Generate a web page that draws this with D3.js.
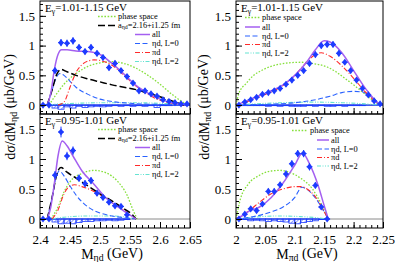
<!DOCTYPE html>
<html>
<head>
<meta charset="utf-8">
<script src="https://cdn.jsdelivr.net/npm/d3@7"></script>
<style>
body { margin: 0; background: #fff; }
svg { display: block; }
</style>
</head>
<body>
<svg id="fig" width="395" height="262" font-family="Liberation Serif, Times New Roman, serif"></svg>
<script>
// ---- data ----
// top left : eta d, E = 1.01-1.15 GeV
const tlX = [2.405,2.415,2.425,2.435,2.445,2.455,2.465,2.475,2.485,2.495,2.505,2.515,2.525,2.535,2.545,2.555,2.565,2.575,2.585,2.595,2.605,2.615,2.625,2.635,2.645];
const tlY = [0,0,0.58,1.05,1.04,1.08,0.97,0.90,0.97,0.87,0.80,0.63,0.70,0.58,0.48,0.37,0.24,0.24,0.19,0.15,0.09,0.06,0.04,0.02,0.02];
const tlErr = [0.03,0.03,0.05,0.06,0.06,0.06,0.05,0.05,0.05,0.05,0.05,0.05,0.05,0.04,0.04,0.04,0.04,0.04,0.03,0.03,0.03,0.03,0.03,0.02,0.02];
const tlSys = [0,0,0.05,0.07,0.03,0.05,0.02,0.04,0.03,0.02,0.03,0.02,0.01,0.02,0.01,0.02,0.01,0.02,0.01,0.04,0.01,0.01,0,0,0];
const tlAll = [[2.412,0],[2.418,0.2],[2.424,0.6],[2.43,0.85],[2.436,0.93],[2.445,0.93],[2.46,0.91],[2.48,0.9],[2.5,0.85],[2.52,0.7],[2.54,0.52],[2.56,0.33],[2.58,0.2],[2.6,0.1],[2.62,0.04],[2.645,0.01]];
const tlA = [[2.412,0],[2.42,0.25],[2.428,0.52],[2.435,0.6],[2.445,0.56],[2.46,0.5],[2.48,0.44],[2.5,0.39],[2.52,0.34],[2.54,0.3],[2.56,0.26],[2.58,0.2],[2.6,0.14],[2.62,0.07],[2.64,0]];
const tlL0 = [[2.412,0],[2.42,0.25],[2.428,0.48],[2.433,0.53],[2.44,0.5],[2.45,0.4],[2.46,0.3],[2.48,0.18],[2.5,0.1],[2.52,0.06],[2.55,0.03],[2.6,0.01],[2.64,0]];
const tlPi = [[2.43,0],[2.44,0.05],[2.45,0.3],[2.46,0.55],[2.47,0.68],[2.48,0.74],[2.49,0.76],[2.5,0.75],[2.52,0.67],[2.54,0.5],[2.56,0.32],[2.58,0.18],[2.6,0.08],[2.62,0.03],[2.64,0]];
const tlPS = [[2.415,0],[2.425,0.15],[2.44,0.35],[2.46,0.53],[2.48,0.65],[2.5,0.71],[2.52,0.73],[2.54,0.7],[2.56,0.62],[2.58,0.5],[2.6,0.35],[2.62,0.18],[2.635,0.07],[2.645,0.01]];
const tlL2 = [[2.415,0],[2.43,0.02],[2.46,0.03],[2.5,0.04],[2.55,0.04],[2.6,0.03],[2.64,0.01]];

// top right : pi d, E = 1.01-1.15 GeV
const trX = [2.005,2.015,2.025,2.035,2.045,2.055,2.065,2.075,2.085,2.095,2.105,2.115,2.125,2.135,2.145,2.155,2.165,2.175,2.185,2.195,2.205,2.215,2.225,2.235,2.245];
const trY = [0,0.05,0.09,0.13,0.18,0.21,0.24,0.28,0.35,0.42,0.5,0.58,0.7,0.85,1.0,1.02,1.02,0.87,0.72,0.58,0.42,0.28,0.17,0.07,0.02];
const trErr = [0.02,0.03,0.03,0.03,0.03,0.03,0.03,0.03,0.04,0.04,0.04,0.04,0.05,0.05,0.05,0.05,0.05,0.05,0.04,0.04,0.04,0.03,0.03,0.03,0.02];
const trSys = [0,0.01,0.01,0.01,0.01,0.02,0.01,0.02,0.01,0.02,0.02,0.02,0.01,0.02,0.01,0.02,0.02,0.01,0.02,0.01,0.01,0.01,0,0,0];
const trAll = [[2,0],[2.02,0.08],[2.04,0.16],[2.06,0.24],[2.08,0.34],[2.1,0.5],[2.12,0.72],[2.135,0.93],[2.15,1.08],[2.16,1.06],[2.18,0.88],[2.2,0.58],[2.22,0.28],[2.235,0.1],[2.245,0]];
const trL0 = [[2,0],[2.05,0.01],[2.1,0.04],[2.13,0.08],[2.16,0.15],[2.18,0.21],[2.2,0.23],[2.215,0.22],[2.23,0.14],[2.245,0]];
const trPi = [[2,0],[2.02,0.06],[2.04,0.14],[2.06,0.22],[2.08,0.33],[2.1,0.5],[2.12,0.72],[2.135,0.85],[2.145,0.88],[2.16,0.82],[2.18,0.66],[2.2,0.45],[2.22,0.22],[2.235,0.08],[2.245,0]];
const trPS = [[2,0],[2.005,0.2],[2.017,0.36],[2.03,0.5],[2.045,0.59],[2.07,0.68],[2.09,0.71],[2.11,0.72],[2.13,0.7],[2.155,0.64],[2.17,0.56],[2.185,0.45],[2.2,0.34],[2.215,0.22],[2.23,0.1],[2.245,0]];
const trL2 = [[2,0],[2.03,0.02],[2.08,0.04],[2.13,0.05],[2.18,0.04],[2.22,0.02],[2.245,0]];

// bottom left : eta d, E = 0.95-1.01 GeV
const blX = [2.405,2.415,2.425,2.435,2.445,2.455,2.465,2.475,2.485,2.495,2.505,2.515,2.525,2.535,2.545];
const blY = [0,0,0.73,1.45,1.05,1.14,0.68,0.59,0.64,0.43,0.36,0.28,0.22,0.21,0.07];
const blErr = [0.03,0.03,0.07,0.09,0.07,0.07,0.06,0.06,0.06,0.05,0.05,0.04,0.04,0.04,0.03];
const blSys = [0,0,0.05,0.08,0.07,0.08,0.06,0.04,0.04,0.03,0.03,0.02,0.03,0.02,0.01];
const blAll = [[2.412,0],[2.418,0.2],[2.424,0.6],[2.43,1.05],[2.437,1.3],[2.445,1.22],[2.455,1.05],[2.47,0.8],[2.49,0.58],[2.51,0.35],[2.53,0.2],[2.545,0.1],[2.56,0]];
const blA = [[2.412,0],[2.42,0.35],[2.428,0.75],[2.435,0.86],[2.445,0.78],[2.46,0.68],[2.48,0.55],[2.5,0.42],[2.52,0.3],[2.54,0.17],[2.555,0.06],[2.56,0]];
const blL0 = [[2.412,0],[2.42,0.35],[2.427,0.7],[2.432,0.8],[2.44,0.72],[2.45,0.55],[2.46,0.4],[2.48,0.2],[2.5,0.1],[2.52,0.05],[2.55,0.01],[2.56,0]];
const blPi = [[2.42,0],[2.43,0.15],[2.44,0.42],[2.45,0.55],[2.457,0.57],[2.47,0.54],[2.49,0.46],[2.51,0.35],[2.53,0.22],[2.55,0.07],[2.56,0]];
const blPS = [[2.418,0],[2.43,0.2],[2.44,0.45],[2.45,0.62],[2.47,0.76],[2.49,0.81],[2.51,0.77],[2.53,0.62],[2.545,0.4],[2.555,0.15],[2.562,0]];
const blL2 = [[2.42,0],[2.44,0.03],[2.48,0.05],[2.52,0.05],[2.55,0.02],[2.56,0]];

// bottom right : pi d, E = 0.95-1.01 GeV
const brX = [2.005,2.015,2.025,2.035,2.045,2.055,2.065,2.075,2.085,2.095,2.105,2.115,2.125,2.135,2.145,2.155];
const brY = [0,0.08,0.17,0.14,0.25,0.46,0.46,0.57,0.75,0.92,1.09,1.09,0.87,0.56,0.2,0];
const brErr = [0.02,0.04,0.04,0.04,0.05,0.05,0.05,0.05,0.06,0.06,0.06,0.06,0.06,0.05,0.04,0.02];
const brSys = [0,0.01,0.03,0.02,0.03,0.04,0.03,0.04,0.05,0.07,0.08,0.06,0.04,0.03,0.01,0];
const brAll = [[2,0],[2.01,0.05],[2.02,0.12],[2.04,0.2],[2.06,0.36],[2.08,0.6],[2.1,0.9],[2.113,1.1],[2.125,0.92],[2.14,0.55],[2.15,0.22],[2.157,0]];
const brL0 = [[2,0],[2.03,0.04],[2.06,0.12],[2.08,0.2],[2.1,0.36],[2.112,0.53],[2.12,0.5],[2.135,0.35],[2.15,0.12],[2.157,0]];
const brPi = [[2,0],[2.02,0.12],[2.04,0.28],[2.06,0.42],[2.08,0.5],[2.1,0.54],[2.11,0.54],[2.125,0.47],[2.14,0.3],[2.15,0.12],[2.157,0]];
const brPS = [[2,0],[2.008,0.35],[2.02,0.57],[2.04,0.73],[2.06,0.8],[2.075,0.81],[2.09,0.78],[2.11,0.68],[2.13,0.5],[2.145,0.25],[2.157,0]];
const brL2 = [[2,0],[2.03,0.03],[2.07,0.05],[2.11,0.04],[2.14,0.02],[2.157,0]];

const etaTicks = [2.4,2.45,2.5,2.55,2.6,2.65];
const piTicks = [2,2.05,2.1,2.15,2.2,2.25];
const yTicks = [0,0.5,1,1.5];

// ---- styles ----
const FONT = 'Liberation Serif, Times New Roman, serif';
const sty = {
  ps:  {color:'#86e03c', dash:'1.6,1.6', w:1.3},
  a:   {color:'#000',    dash:'7,3',     w:1.5},
  all: {color:'#a45ff0', dash:null,      w:1.5},
  l0:  {color:'#2a62ff', dash:'5,2.5',   w:1.1},
  pi:  {color:'#ff2b2b', dash:'5,2,1,2', w:1.1},
  l2:  {color:'#66e3d2', dash:'4,1.5,1,1.5,1,1.5', w:1.1}
};
const ptColor = '#1d3bff';

const svg = d3.select('#fig');
const defs = svg.append('defs');
const pat = defs.append('pattern').attr('id','hatch').attr('patternUnits','userSpaceOnUse')
  .attr('width',3).attr('height',3).attr('patternTransform','rotate(45)');
pat.append('line').attr('x1',0).attr('y1',0).attr('x2',0).attr('y2',3).attr('stroke',ptColor).attr('stroke-width',1);

function rich(sel, parts) {
  parts.forEach(p => {
    const t = sel.append('tspan').text(p[0]);
    if (p[1] === 'sub') t.attr('font-size','0.7em').attr('dy','0.2em');
    if (p[1] === 'back') t.attr('dy','-0.2em');
  });
}

function panel(p) {
  const x = d3.scaleLinear().domain(p.xDom).range([p.left, p.right]);
  const y = d3.scaleLinear().domain([-0.15, 1.75]).range([p.bottom, p.top]);
  const g = svg.append('g');

  // zero line
  g.append('line').attr('x1',p.left).attr('x2',p.right).attr('y1',y(0)).attr('y2',y(0))
    .attr('stroke','#8a8a8a').attr('stroke-width',1);

  // systematic band
  const hb = 0.005;
  g.selectAll('rect.sys').data(p.sys.map((s,i)=>({c:p.px[i], s}))).join('rect')
    .attr('x', d => x(d.c-hb)).attr('width', d => x(d.c+hb)-x(d.c-hb))
    .attr('y', y(0)).attr('height', d => y(-d.s)-y(0))
    .attr('fill','url(#hatch)').attr('stroke',ptColor).attr('stroke-width',0.8);
  g.append('line').attr('x1',x(p.px[0]-hb)).attr('x2',x(p.px[p.px.length-1]+hb))
    .attr('y1',y(0)).attr('y2',y(0)).attr('stroke',ptColor).attr('stroke-width',1.2);

  // curves
  const line = d3.line().x(d=>x(d[0])).y(d=>y(d[1])).curve(d3.curveMonotoneX);
  p.curves.forEach(c => {
    const s = sty[c.k];
    g.append('path').attr('d', line(c.d)).attr('fill','none')
      .attr('stroke', s.color).attr('stroke-width', s.w)
      .attr('stroke-dasharray', s.dash);
  });

  // data points
  const pts = p.px.map((v,i)=>({x:v, y:p.py[i], e:p.pe[i]}));
  const pg = g.append('g');
  pg.selectAll('line.ev').data(pts).join('line')
    .attr('x1',d=>x(d.x)).attr('x2',d=>x(d.x)).attr('y1',d=>y(d.y+d.e)).attr('y2',d=>y(d.y-d.e))
    .attr('stroke',ptColor).attr('stroke-width',1);
  pg.selectAll('line.eh').data(pts).join('line')
    .attr('x1',d=>x(d.x-hb)).attr('x2',d=>x(d.x+hb)).attr('y1',d=>y(d.y)).attr('y2',d=>y(d.y))
    .attr('stroke',ptColor).attr('stroke-width',1);
  pg.selectAll('path.pt').data(pts).join('path')
    .attr('d', 'M0,-3.6L2.8,0L0,3.6L-2.8,0Z')
    .attr('transform', d => `translate(${x(d.x)},${y(d.y)})`)
    .attr('fill', ptColor);

  // axes
  const minorX = d3.range(p.xDom[0], p.xDom[1]+1e-9, 0.01);
  const ax = g.append('g').attr('transform',`translate(0,${p.bottom})`)
    .call(d3.axisBottom(x).tickValues(p.xTicks).tickSize(-6).tickPadding(7)
      .tickFormat(p.labels ? (d => String(+d.toFixed(2))) : ''));
  ax.select('.domain').remove();
  ax.attr('font-family', FONT);
  ax.selectAll('text').attr('font-size',13).attr('fill','#000');
  const axm = g.append('g').attr('transform',`translate(0,${p.bottom})`)
    .call(d3.axisBottom(x).tickValues(minorX).tickSize(-3).tickFormat(''));
  axm.select('.domain').remove();

  const ay = g.append('g').attr('transform',`translate(${p.left},0)`)
    .call(d3.axisLeft(y).tickValues(yTicks).tickSize(-6).tickPadding(5).tickFormat(d => String(d)));
  ay.select('.domain').remove();
  ay.attr('font-family', FONT);
  ay.selectAll('text').attr('font-size',13).attr('fill','#000');
  const aym = g.append('g').attr('transform',`translate(${p.left},0)`)
    .call(d3.axisLeft(y).tickValues(d3.range(-0.1, 1.75, 0.1)).tickSize(-3).tickFormat(''));
  aym.select('.domain').remove();

  // frame
  g.append('rect').attr('x',p.left).attr('y',p.top).attr('width',p.right-p.left).attr('height',p.bottom-p.top)
    .attr('fill','none').attr('stroke','#000').attr('stroke-width',1);

  // header
  const h = g.append('text').attr('x', p.left+5).attr('y', p.top+11).attr('font-size',11);
  rich(h, [['E',''],['γ','sub'],['='+p.energy+' GeV','back']]);

  // legend
  p.legend.forEach(r => {
    const s = sty[r.k];
    const cy = p.top + r.dy;
    g.append('line').attr('x1',r.x0).attr('x2',r.x1).attr('y1',cy).attr('y2',cy)
      .attr('stroke',s.color).attr('stroke-width',s.w).attr('stroke-dasharray',s.dash);
    const t = g.append('text').attr('x',r.x1+2).attr('y',cy+2.8).attr('font-size',8.4);
    rich(t, r.label);
  });
}

const lblPS = [['phase space','']];
const lblA = [['a',''],['ηd','sub'],['=2.16+i1.25 fm','back']];
const lblAll = [['all','']];
const lblL0 = [['ηd, L=0','']];
const lblPi = [['πd','']];
const lblL2 = [['ηd, L=2','']];

const etaLegend = [
  {k:'ps', label:lblPS, x0:98, x1:116, dy:15.5},
  {k:'a', label:lblA, x0:98, x1:116, dy:24.5},
  {k:'all', label:lblAll, x0:135, x1:150, dy:33.5},
  {k:'l0', label:lblL0, x0:135, x1:150, dy:42.5},
  {k:'pi', label:lblPi, x0:135, x1:150, dy:51.5},
  {k:'l2', label:lblL2, x0:135, x1:150, dy:60.5}
];
const piLegendTop = [
  {k:'ps', label:lblPS, x0:245, x1:260, dy:16.5},
  {k:'all', label:lblAll, x0:245, x1:260, dy:26},
  {k:'l0', label:lblL0, x0:245, x1:260, dy:35},
  {k:'pi', label:lblPi, x0:245, x1:260, dy:43.5},
  {k:'l2', label:lblL2, x0:245, x1:260, dy:52}
];
const piLegendBot = [
  {k:'ps', label:lblPS, x0:292, x1:308, dy:16.5},
  {k:'all', label:lblAll, x0:317, x1:329, dy:26},
  {k:'l0', label:lblL0, x0:317, x1:329, dy:35},
  {k:'pi', label:lblPi, x0:317, x1:329, dy:43.5},
  {k:'l2', label:lblL2, x0:317, x1:329, dy:52}
];

const L = {left:40, right:190}, R = {left:236, right:383};
const T = {top:1, bottom:114}, B = {top:114, bottom:228};

panel({...L, ...T, xDom:[2.4,2.65], xTicks:etaTicks, labels:false, energy:'1.01-1.15',
  px:tlX, py:tlY, pe:tlErr, sys:tlSys, legend:etaLegend,
  curves:[{k:'ps',d:tlPS},{k:'l2',d:tlL2},{k:'l0',d:tlL0},{k:'pi',d:tlPi},{k:'a',d:tlA},{k:'all',d:tlAll}]});
panel({...R, ...T, xDom:[2,2.25], xTicks:piTicks, labels:false, energy:'1.01-1.15',
  px:trX, py:trY, pe:trErr, sys:trSys, legend:piLegendTop,
  curves:[{k:'ps',d:trPS},{k:'l2',d:trL2},{k:'l0',d:trL0},{k:'pi',d:trPi},{k:'all',d:trAll}]});
panel({...L, ...B, xDom:[2.4,2.65], xTicks:etaTicks, labels:true, energy:'0.95-1.01',
  px:blX, py:blY, pe:blErr, sys:blSys, legend:etaLegend,
  curves:[{k:'ps',d:blPS},{k:'l2',d:blL2},{k:'l0',d:blL0},{k:'pi',d:blPi},{k:'a',d:blA},{k:'all',d:blAll}]});
panel({...R, ...B, xDom:[2,2.25], xTicks:piTicks, labels:true, energy:'0.95-1.01',
  px:brX, py:brY, pe:brErr, sys:brSys, legend:piLegendBot,
  curves:[{k:'ps',d:brPS},{k:'l2',d:brL2},{k:'l0',d:brL0},{k:'pi',d:brPi},{k:'all',d:brAll}]});

// axis titles
const yt1 = svg.append('text').attr('transform','translate(15,107) rotate(-90)')
  .attr('text-anchor','middle').attr('font-size',14);
rich(yt1, [['dσ/dM',''],['ηd','sub'],[' (μb/GeV)','back']]);
const yt2 = svg.append('text').attr('transform','translate(209,107) rotate(-90)')
  .attr('text-anchor','middle').attr('font-size',14);
rich(yt2, [['dσ/dM',''],['πd','sub'],[' (μb/GeV)','back']]);
const xt1 = svg.append('text').attr('x',112).attr('y',259).attr('text-anchor','middle').attr('font-size',14);
rich(xt1, [['M',''],['ηd','sub'],[' (GeV)','back']]);
const xt2 = svg.append('text').attr('x',307).attr('y',259).attr('text-anchor','middle').attr('font-size',14);
rich(xt2, [['M',''],['πd','sub'],[' (GeV)','back']]);
</script>
</body>
</html>
